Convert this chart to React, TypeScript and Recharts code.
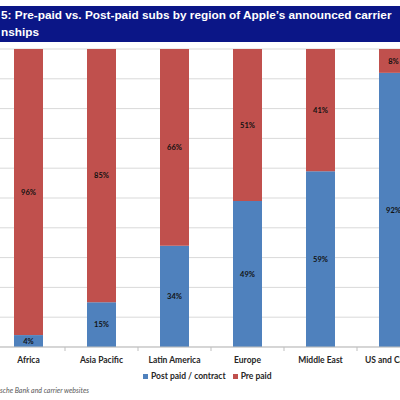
import { BarChart, Bar, XAxis, YAxis, CartesianGrid, Legend, LabelList } from "recharts";

const regions = ["Africa", "Asia Pacific", "Latin America", "Europe", "Middle East", "US and Canada"];
const postPaid = [4, 15, 34, 49, 59, 92];
const prePaid = [96, 85, 66, 51, 41, 8];
const yTicks = [0, 10, 20, 30, 40, 50, 60, 70, 80, 90, 100];

const data = regions.map((region, i) => ({
  region,
  post: postPaid[i],
  pre: prePaid[i],
}));

const CHART_W = 460;
const MARGIN = { top: 49, right: 12, left: 10, bottom: 0 };
const STEP = (CHART_W - MARGIN.left - MARGIN.right) / regions.length;

const labelFont = "Lato, 'Open Sans', sans-serif";

function RegionTick(props: any) {
  const { x, y, payload } = props;
  return (
    <g>
      <line x1={x - STEP / 2} x2={x - STEP / 2} y1={y} y2={y + 4} stroke="#bfbfbf" />
      <text
        x={x}
        y={y + 14}
        textAnchor="middle"
        dominantBaseline="middle"
        fontFamily={labelFont}
        fontSize={8.5}
        fontWeight={700}
        fill="#262626"
      >
        {payload.value}
      </text>
    </g>
  );
}

function LegendBox() {
  const items = [
    { name: "Post paid / contract", color: "#4f81bd" },
    { name: "Pre paid", color: "#c0504d" },
  ];
  return (
    <div style={{ display: "flex", gap: 7, fontFamily: labelFont, fontSize: 8.5, fontWeight: 700, color: "#262626" }}>
      {items.map((it) => (
        <div key={it.name} style={{ display: "flex", alignItems: "center", gap: 3 }}>
          <span style={{ width: 5, height: 5, background: it.color, display: "inline-block" }} />
          <span>{it.name}</span>
        </div>
      ))}
    </div>
  );
}

export default function App() {
  return (
    <div
      style={{
        position: "absolute",
        top: 0,
        left: 0,
        width: 400,
        height: 400,
        overflow: "hidden",
        background: "#fff",
      }}
    >
      <div style={{ position: "absolute", left: -18, top: 0 }}>
        <BarChart width={CHART_W} height={400} data={data} margin={MARGIN}>
          <CartesianGrid vertical={false} stroke="#d9d9d9" />
          <YAxis hide domain={[0, 100]} ticks={yTicks} />
          <XAxis
            dataKey="region"
            height={53}
            interval={0}
            tickLine={false}
            tickSize={0}
            tickMargin={0}
            stroke="#bfbfbf"
            tick={<RegionTick />}
          />
          <Legend
            layout="horizontal"
            verticalAlign="middle"
            align="center"
            wrapperStyle={{ top: 371, left: 161, width: "auto" }}
            content={<LegendBox />}
          />
          <Bar dataKey="post" name="Post paid / contract" stackId="a" fill="#4f81bd" barSize={29} isAnimationActive={false}>
            <LabelList
              dataKey="post"
              position="center"
              formatter={(v: any) => `${v}%`}
              style={{ fontFamily: labelFont, fontSize: 7.5, fontWeight: 700, fill: "#111" }}
            />
          </Bar>
          <Bar dataKey="pre" name="Pre paid" stackId="a" fill="#c0504d" barSize={29} isAnimationActive={false}>
            <LabelList
              dataKey="pre"
              position="center"
              formatter={(v: any) => `${v}%`}
              style={{ fontFamily: labelFont, fontSize: 7.5, fontWeight: 700, fill: "#111" }}
            />
          </Bar>
        </BarChart>
      </div>
      <div
        style={{
          position: "absolute",
          top: 6,
          left: 0,
          width: 400,
          height: 36,
          background: "#0b1687",
          color: "#fff",
          fontFamily: "'Liberation Sans', Arial, sans-serif",
          fontWeight: 700,
          fontSize: 11.8,
          lineHeight: "17px",
          paddingLeft: 1,
          boxSizing: "border-box",
          paddingTop: 1,
          whiteSpace: "nowrap",
        }}
      >
        <div>5: Pre-paid vs. Post-paid subs by region of Apple’s announced carrier</div>
        <div>nships</div>
      </div>
      <div
        style={{
          position: "absolute",
          top: 386,
          left: 0,
          fontFamily: labelFont,
          fontStyle: "italic",
          fontSize: 7,
          color: "#595959",
          whiteSpace: "nowrap",
        }}
      >
        sche Bank and carrier websites
      </div>
    </div>
  );
}
